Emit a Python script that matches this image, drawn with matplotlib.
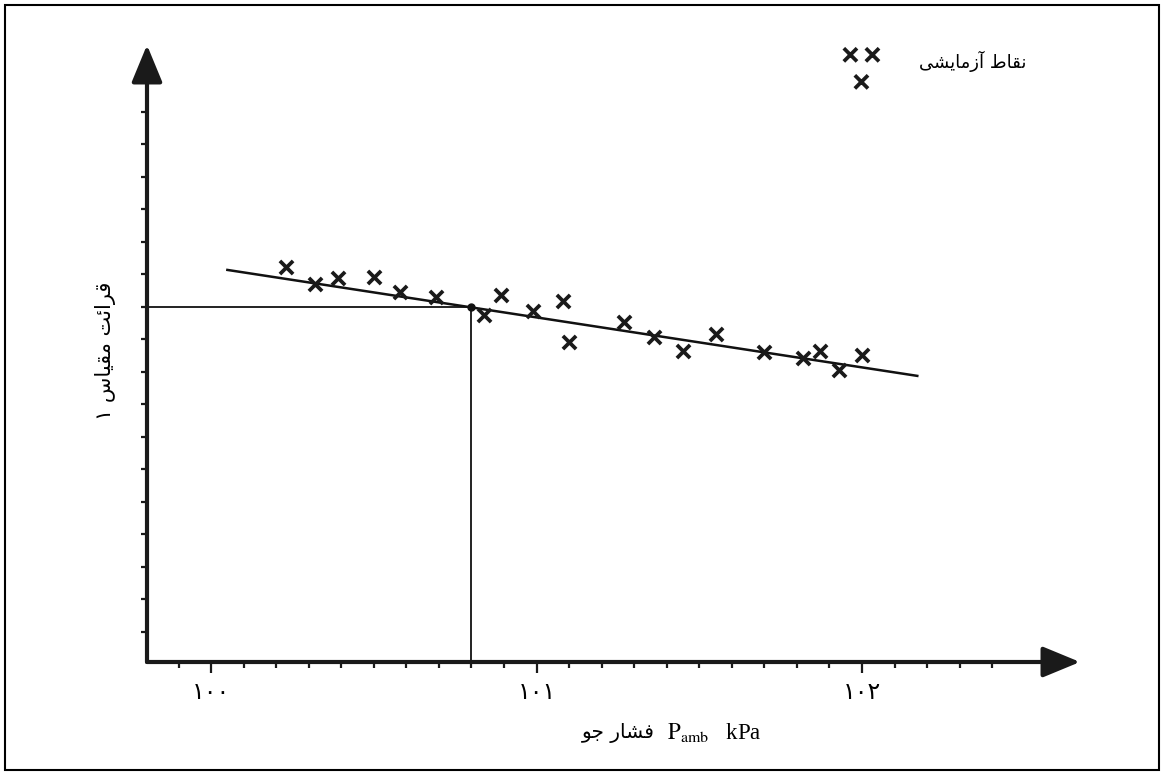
import numpy as np
import matplotlib
matplotlib.use("Agg")
import matplotlib.pyplot as plt
from matplotlib.patches import Rectangle

# نقاط آزمایشی (فشار جو kPa ، قرائت مقیاس)
p_amb = [100.23, 100.32, 100.39, 100.50, 100.58, 100.69, 100.84, 100.89, 100.99, 101.08,
         101.10, 101.27, 101.36, 101.45, 101.55, 101.70, 101.82, 101.87, 101.93, 102.00]
reading = [12.23, 11.71, 11.89, 11.92, 11.46, 11.31, 10.75, 11.37, 10.88, 11.18,
           9.92, 10.54, 10.08, 9.65, 10.17, 9.62, 9.43, 9.65, 9.06, 9.52]

# خط برازش
fit_x = [100.05, 102.17]
fit_y = [12.14, 8.88]

# نقطه مرجع
ref_x = 100.80
ref_y = 11.0

x_major = [100, 101, 102]
x_major_labels = ["۱۰۰", "۱۰۱", "۱۰۲"]

legend_text = "نقاط آزمایشی"
ylabel_text = "قرائت مقیاس ۱"
xlabel_fa = "فشار جو"
xlabel_en = r"$\mathrm{P}_{\mathrm{amb}}$   kPa"

# presentation forms: isolated, final, initial, medial
FORMS = {
    "ا": ("\uFE8D", "\uFE8E", None, None),
    "آ": ("\uFE81", "\uFE82", None, None),
    "ز": ("\uFEAF", "\uFEB0", None, None),
    "ر": ("\uFEAD", "\uFEAE", None, None),
    "و": ("\uFEED", "\uFEEE", None, None),
    "ن": ("\uFEE5", "\uFEE6", "\uFEE7", "\uFEE8"),
    "ق": ("\uFED5", "\uFED6", "\uFED7", "\uFED8"),
    "ط": ("\uFEC1", "\uFEC2", "\uFEC3", "\uFEC4"),
    "م": ("\uFEE1", "\uFEE2", "\uFEE3", "\uFEE4"),
    "ی": ("\uFEEF", "\uFEF0", "\uFEF3", "\uFEF4"),
    "ش": ("\uFEB5", "\uFEB6", "\uFEB7", "\uFEB8"),
    "ئ": ("\uFE89", "\uFE8A", "\uFE8B", "\uFE8C"),
    "ت": ("\uFE95", "\uFE96", "\uFE97", "\uFE98"),
    "س": ("\uFEB1", "\uFEB2", "\uFEB3", "\uFEB4"),
    "ف": ("\uFED1", "\uFED2", "\uFED3", "\uFED4"),
    "ج": ("\uFE9D", "\uFE9E", "\uFE9F", "\uFEA0"),
}


def fa(text):
    out = []
    for i, ch in enumerate(text):
        if ch not in FORMS:
            out.append(ch)
            continue
        prev = text[i - 1] if i > 0 else ""
        nxt = text[i + 1] if i + 1 < len(text) else ""
        joins_prev = prev in FORMS and FORMS[prev][2] is not None
        joins_next = nxt in FORMS and FORMS[ch][2] is not None
        iso, fin, ini, med = FORMS[ch]
        if joins_prev and joins_next:
            out.append(med)
        elif joins_prev:
            out.append(fin)
        elif joins_next:
            out.append(ini)
        else:
            out.append(iso)
    return "".join(out)[::-1]


FA_FONT = ["DejaVu Sans"]

fig = plt.figure(figsize=(11.64, 7.75), dpi=100)
W, H = 1164, 775
ax = fig.add_axes([147 / W, 1 - 662 / H, (1080 - 147) / W, (662 - 45) / H])
ax.set_xlim(99.803, 102.67)
ax.set_ylim(0.077, 19.06)
for s in ax.spines.values():
    s.set_visible(False)

# axes with arrowheads
arrow = dict(arrowstyle="-|>,head_length=2.3,head_width=0.95", mutation_scale=10,
             lw=3, color="#1a1a1a", shrinkA=0, shrinkB=0)
ax.annotate("", xy=(1, 0), xytext=(0, 0), xycoords="axes fraction", arrowprops=arrow)
ax.annotate("", xy=(0, 1), xytext=(0, 0), xycoords="axes fraction", arrowprops=arrow)

ax.set_xticks(x_major)
ax.set_xticklabels(x_major_labels, fontsize=17, family=FA_FONT)
ax.set_xticks(np.arange(99.9, 102.45, 0.1), minor=True)
ax.set_yticks(np.arange(1, 18))
ax.set_yticklabels([])
ax.tick_params(axis="x", which="major", length=8, width=1.6, pad=5, color="#1a1a1a")
ax.tick_params(axis="x", which="minor", length=4.5, width=1.6, color="#1a1a1a")
ax.tick_params(axis="y", which="major", length=4.5, width=1.6, color="#1a1a1a")

# reference lines
ax.plot([ax.get_xlim()[0], ref_x], [ref_y, ref_y], color="#222222", lw=1.4)
ax.plot([ref_x, ref_x], [ax.get_ylim()[0], ref_y], color="#222222", lw=1.4)
ax.plot([ref_x], [ref_y], "o", color="#111111", ms=5)

# fitted line and data
ax.plot(fit_x, fit_y, color="#111111", lw=1.8)
ax.scatter(p_amb, reading, marker="x", s=90, linewidths=2.7, color="#1a1a1a",
           label=fa(legend_text), zorder=3)

leg = ax.legend(loc="upper right", bbox_to_anchor=(1043 / W, 1 - 32 / H),
                bbox_transform=fig.transFigure, frameon=False, scatterpoints=3,
                scatteryoffsets=[0.47, -0.5, 0.47], handlelength=1.82,
                handleheight=2.0, handletextpad=2.3,
                prop={"family": FA_FONT, "size": 13})

ax.text(-0.045, 0.505, fa(ylabel_text), rotation=90, ha="center", va="center",
        transform=ax.transAxes, family=FA_FONT, fontsize=15)
ax.text(0.5445, -0.115, fa(xlabel_fa), ha="right", va="center",
        transform=ax.transAxes, family=FA_FONT, fontsize=14.5)
ax.text(0.557, -0.115, xlabel_en, ha="left", va="center",
        transform=ax.transAxes, family="Liberation Serif", fontsize=16.5,
        math_fontfamily="stix")

fig.patches.append(Rectangle((5 / W, 5 / H), 1 - 10 / W, 1 - 10 / H, fill=False,
                             lw=1.5, edgecolor="black", transform=fig.transFigure))

fig.savefig("out.png", dpi=100)
